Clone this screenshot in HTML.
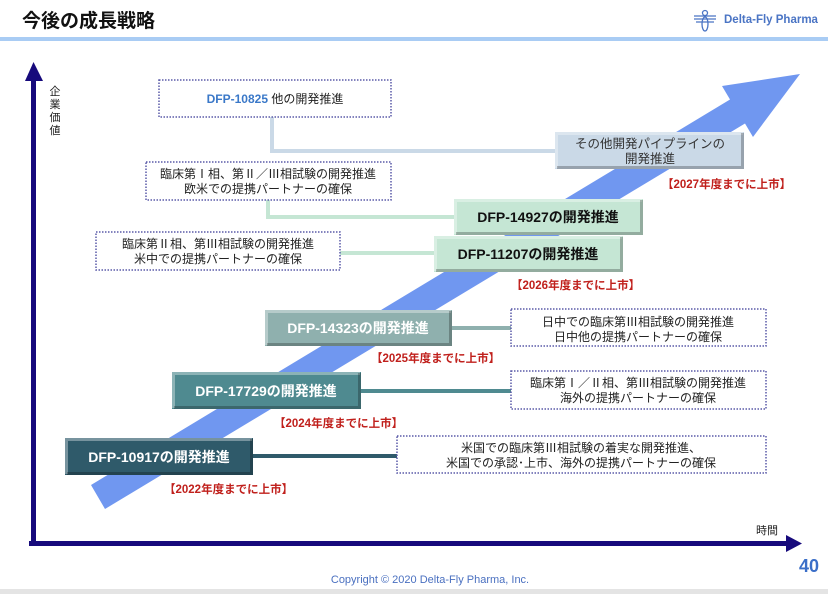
<!DOCTYPE html>
<html><head><meta charset="utf-8"><style>
html,body{margin:0;padding:0;background:#fff;}
svg{display:block;}
text{font-family:"Liberation Sans","Noto Sans CJK JP",sans-serif;}
</style></head><body>
<svg width="828" height="594" viewBox="0 0 828 594" xmlns="http://www.w3.org/2000/svg">
<!-- header -->
<text x="22" y="27" font-size="19" font-weight="bold" fill="#111">今後の成長戦略</text>
<rect x="0" y="37" width="828" height="4" fill="#a9ccf4"/>
<g stroke="#4a74c4" stroke-width="1.3" fill="none">
<line x1="694" y1="19" x2="716" y2="19"/><line x1="694" y1="16" x2="716" y2="16"/><line x1="696" y1="22" x2="714" y2="22"/>
<ellipse cx="705" cy="24" rx="3" ry="7"/><circle cx="705" cy="13" r="2.5"/>
</g>
<text x="724" y="23" font-size="11.5" font-weight="bold" fill="#4a74c4">Delta-Fly Pharma</text>

<!-- big arrow -->
<polygon points="91,485 730,99.5 722,86 800,74 753,137 745,123.5 105,509" fill="#7097f0"/>

<!-- axes -->
<rect x="31" y="78" width="5" height="468" fill="#170a7c"/>
<polygon points="25,81 33.5,62 43,81" fill="#170a7c"/>
<rect x="29" y="541" width="760" height="5" fill="#170a7c"/>
<polygon points="786,535 802,543.5 786,552" fill="#170a7c"/>
<g font-size="11" fill="#222" text-anchor="middle">
<text x="55" y="95">企</text><text x="55" y="108">業</text><text x="55" y="121">価</text><text x="55" y="134">値</text>
</g>
<text x="756" y="534" font-size="11" fill="#222">時間</text>

<!-- connectors -->
<g fill="none" stroke-width="4">
<polyline points="272,117 272,151 555,151" stroke="#cad9e7"/>
<polyline points="268,200 268,217 454,217" stroke="#c5e6d4"/>
<polyline points="340,253 434,253" stroke="#c5e6d4"/>
<line x1="452" y1="328" x2="511" y2="328" stroke="#8fb0ae"/>
<line x1="361" y1="391" x2="511" y2="391" stroke="#4f8a90"/>
<line x1="253" y1="456" x2="397" y2="456" stroke="#2f5a6a"/>
</g>

<!-- dotted boxes -->
<g fill="#fff" stroke="#5a5aa8" stroke-width="1.5" stroke-dasharray="1.5 1.5">
<rect x="159" y="80" width="232" height="37"/>
<rect x="146" y="162" width="245" height="38"/>
<rect x="96" y="232" width="244" height="38"/>
<rect x="511" y="309" width="255" height="37"/>
<rect x="511" y="371" width="255" height="38"/>
<rect x="397" y="436" width="369" height="37"/>
</g>
<g font-size="12" fill="#222" text-anchor="middle">
<text x="275" y="103"><tspan fill="#3a78c8" font-weight="bold">DFP-10825</tspan> 他の開発推進</text>
<text x="268" y="178">臨床第Ⅰ相、第Ⅱ／Ⅲ相試験の開発推進</text>
<text x="268" y="193">欧米での提携パートナーの確保</text>
<text x="218" y="248">臨床第Ⅱ相、第Ⅲ相試験の開発推進</text>
<text x="218" y="263">米中での提携パートナーの確保</text>
<text x="638" y="326">日中での臨床第Ⅲ相試験の開発推進</text>
<text x="638" y="341">日中他の提携パートナーの確保</text>
<text x="638" y="387">臨床第Ⅰ／Ⅱ相、第Ⅲ相試験の開発推進</text>
<text x="638" y="402">海外の提携パートナーの確保</text>
<text x="581" y="452">米国での臨床第Ⅲ相試験の着実な開発推進、</text>
<text x="581" y="467">米国での承認･上市、海外の提携パートナーの確保</text>
</g>

<!-- bevel boxes -->
<g>
<rect x="555" y="132" width="189" height="37" fill="#cad9e7"/>
<rect x="454" y="199" width="189" height="36" fill="#c5e6d4"/>
<rect x="434" y="236" width="189" height="36" fill="#c5e6d4"/>
<rect x="265" y="310" width="187" height="36" fill="#8fb0ae"/>
<rect x="172" y="372" width="189" height="37" fill="#4f8a90"/>
<rect x="65" y="438" width="188" height="37" fill="#2f5a6a"/>
</g>
<g fill="none" stroke-width="3">
<g stroke="#fff" stroke-opacity="0.35">
<polyline points="556.5,168 556.5,133.5 743,133.5"/>
<polyline points="455.5,234 455.5,200.5 642,200.5"/>
<polyline points="435.5,271 435.5,237.5 622,237.5"/>
<polyline points="266.5,345 266.5,311.5 451,311.5"/>
<polyline points="173.5,408 173.5,373.5 360,373.5"/>
<polyline points="66.5,474 66.5,439.5 252,439.5"/>
</g>
<g stroke="#000" stroke-opacity="0.25">
<polyline points="557,167.5 742.5,167.5 742.5,133"/>
<polyline points="456,233.5 641.5,233.5 641.5,200"/>
<polyline points="436,270.5 621.5,270.5 621.5,237"/>
<polyline points="267,344.5 450.5,344.5 450.5,311"/>
<polyline points="174,407.5 359.5,407.5 359.5,373"/>
<polyline points="67,473.5 251.5,473.5 251.5,439"/>
</g>
</g>
<g text-anchor="middle" font-weight="bold" font-size="14">
<text x="548" y="222" fill="#111">DFP-14927の開発推進</text>
<text x="528" y="259" fill="#111">DFP-11207の開発推進</text>
<text x="358" y="333" fill="#fff">DFP-14323の開発推進</text>
<text x="266" y="396" fill="#fff">DFP-17729の開発推進</text>
<text x="159" y="462" fill="#fff">DFP-10917の開発推進</text>
</g>
<text x="650" y="148" font-size="12.5" fill="#333" text-anchor="middle">その他開発パイプラインの</text>
<text x="650" y="163" font-size="12.5" fill="#333" text-anchor="middle">開発推進</text>

<!-- red labels -->
<g font-size="11.5" font-weight="bold" fill="#c0201c">
<text x="662" y="188">【2027年度までに上市】</text>
<text x="511" y="289">【2026年度までに上市】</text>
<text x="371" y="362">【2025年度までに上市】</text>
<text x="274" y="427">【2024年度までに上市】</text>
<text x="164" y="493">【2022年度までに上市】</text>
</g>

<!-- footer -->
<text x="430" y="583" font-size="11" fill="#4a70c0" text-anchor="middle">Copyright © 2020  Delta-Fly Pharma, Inc.</text>
<text x="819" y="572" font-size="18" font-weight="bold" fill="#3a6ec8" text-anchor="end">40</text>
<rect x="0" y="589" width="828" height="5" fill="#e4e4e4"/>
</svg>
</body></html>
